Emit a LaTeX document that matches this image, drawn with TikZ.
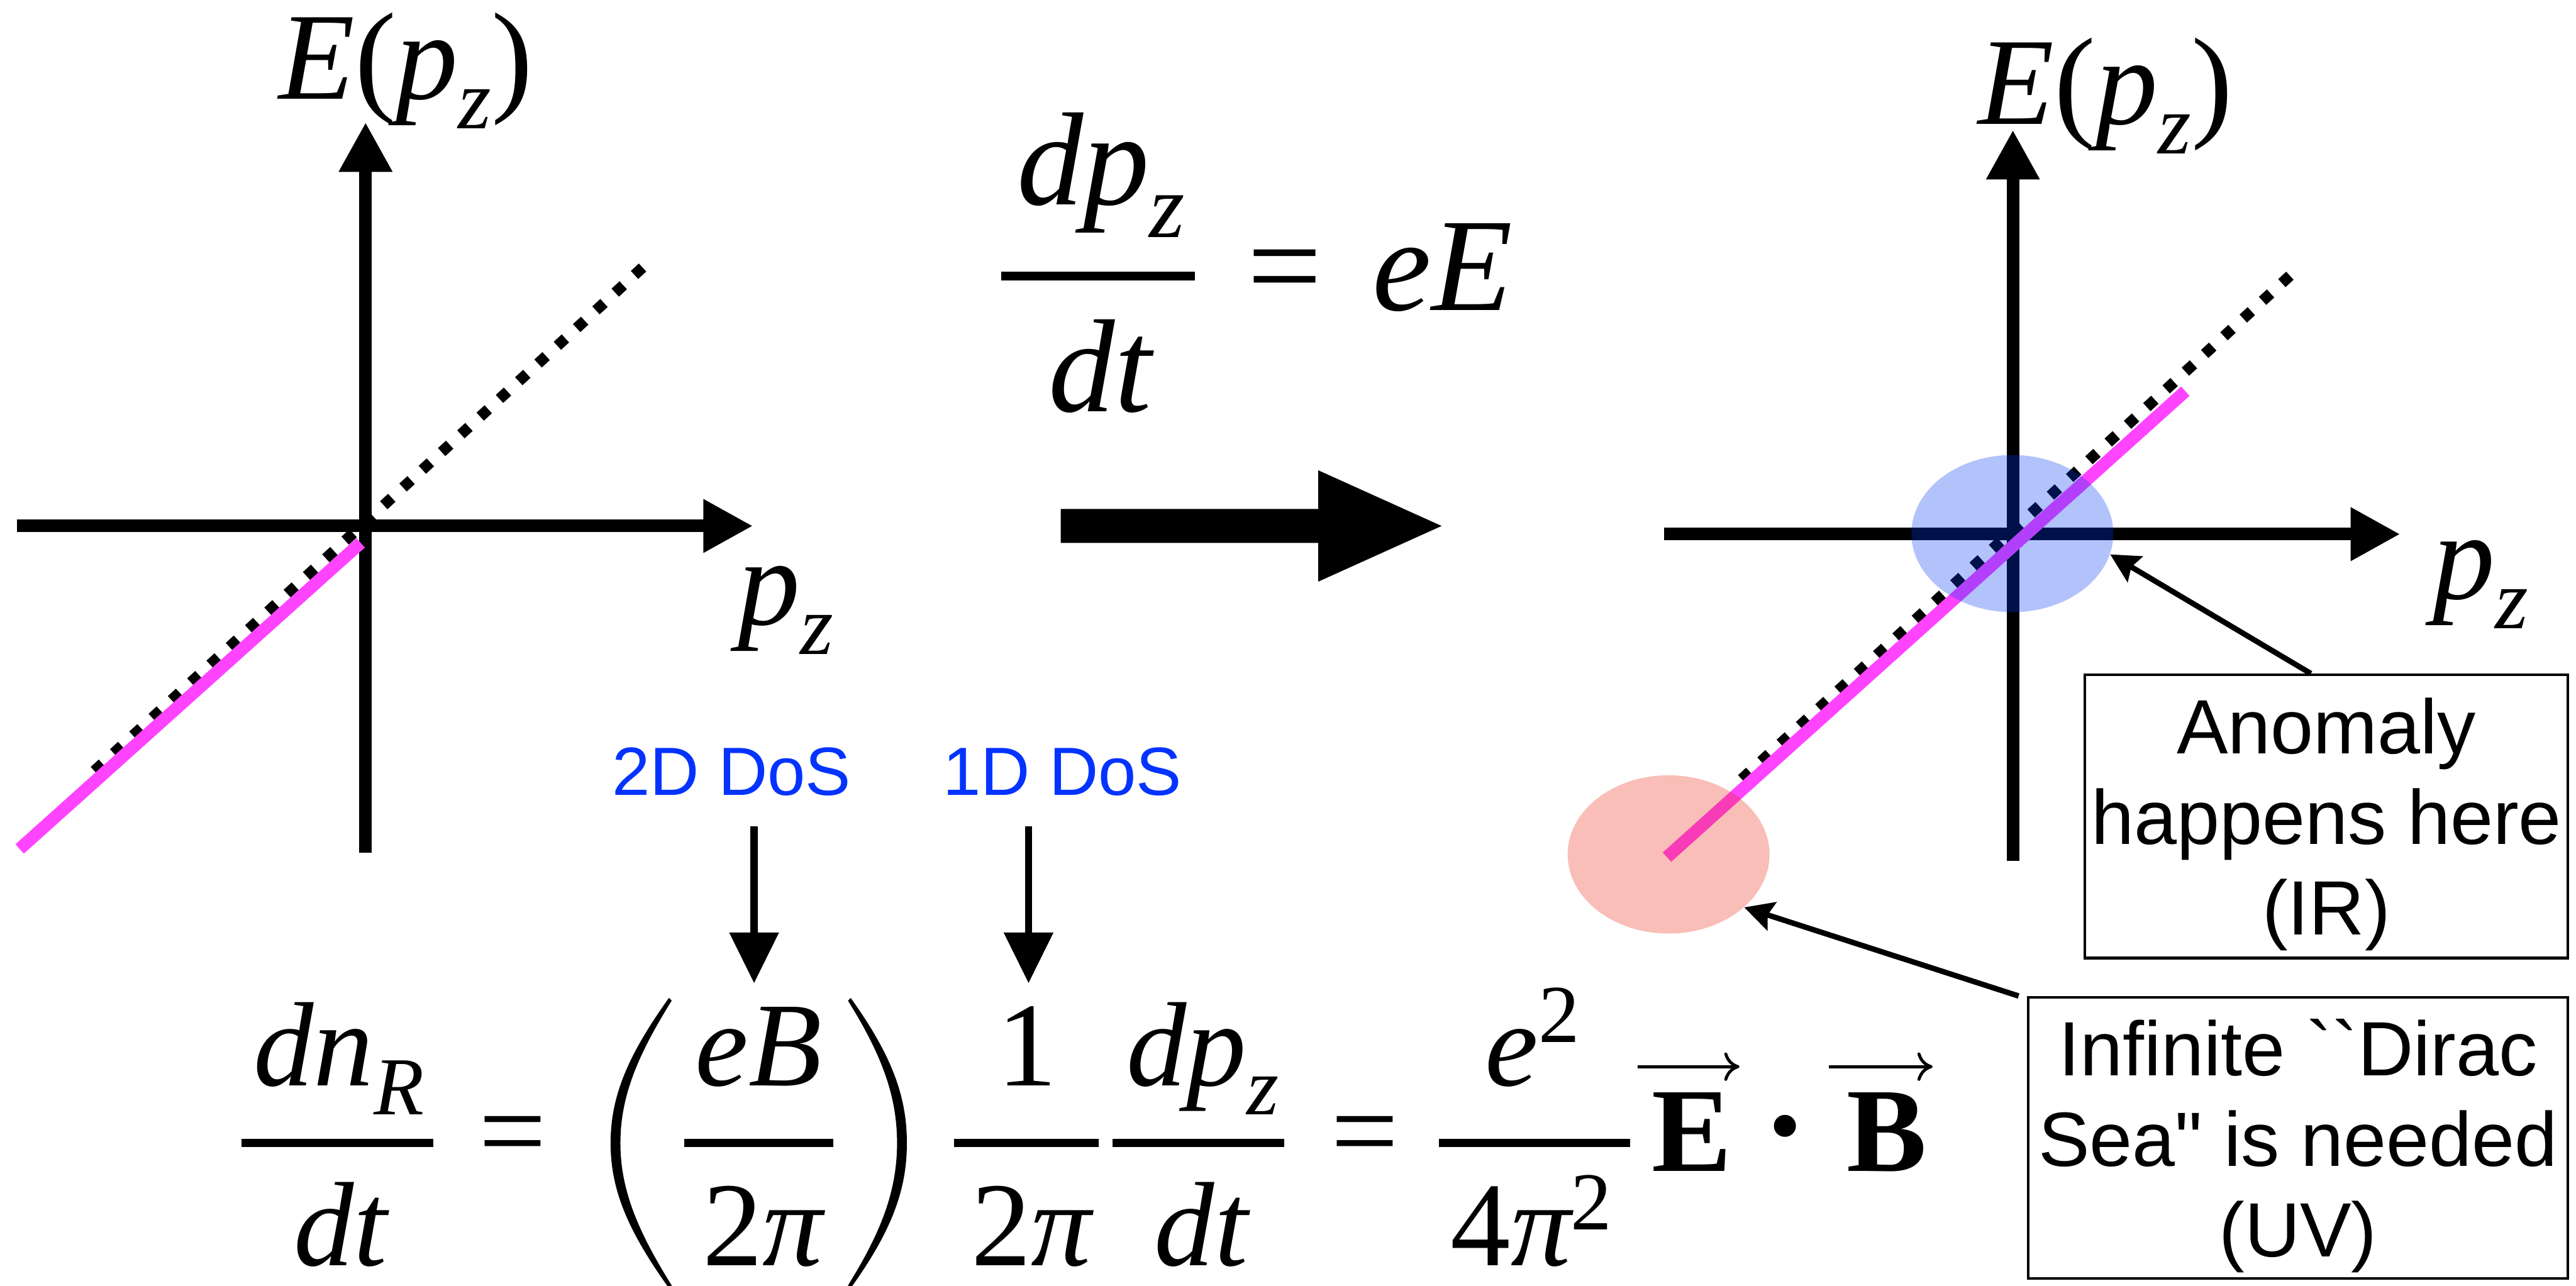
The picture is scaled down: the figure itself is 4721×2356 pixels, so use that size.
\documentclass[tikz,border=0pt]{standalone}
\usepackage{graphicx}
\usepackage{fontspec}
\newfontfamily\tms{Liberation Serif}
\newfontfamily\helv{Liberation Sans}[Ligatures=TeXOff]
\newcommand{\subB}{\fontsize{37.75pt}{38pt}\selectfont}
\newcommand{\subT}{\fontsize{41.75pt}{42pt}\selectfont}
\newcommand{\subA}{\fontsize{39pt}{40pt}\selectfont}
\usetikzlibrary{arrows.meta,shapes.geometric,calc}
\definecolor{mag}{RGB}{255,68,255}
\definecolor{dosblue}{RGB}{4,51,255}
\definecolor{irblue}{RGB}{0,55,242}
\definecolor{uvred}{RGB}{232,40,16}
\tikzset{
  axisline/.style={line width=5.75pt,-{Triangle[length=22.75pt,width=23pt]}},
  dotline/.style={line width=5pt,dash pattern=on 5pt off 7pt},
  magline/.style={line width=5.75pt,draw=mag},
  callout/.style={line width=2.5pt,-{Stealth[length=13.25pt,width=13.5pt,inset=2pt]}},
  downarr/.style={line width=3.25pt,-{Triangle[length=23.25pt,width=22pt]}},
  ibox/.style={draw,line width=1.25pt,inner sep=0pt,align=center,
    font=\helv\fontsize{35.25pt}{41.5pt}\selectfont},
  doslab/.style={anchor=base,inner sep=0pt,text=dosblue,
    font=\helv\fontsize{31.25pt}{36pt}\selectfont},
  axlab/.style={anchor=base west,inner sep=0pt,font=\tms\fontsize{57pt}{60pt}\selectfont},
  region/.style={ellipse,inner sep=0pt,fill opacity=0.3,minimum width=92.5pt,minimum height=72pt},
  eqB/.style={anchor=base,inner sep=0pt,font=\tms\fontsize{55pt}{55pt}\selectfont},
  eqBw/.style={eqB,anchor=base west},
  eqT/.style={anchor=base,inner sep=0pt,font=\tms\fontsize{60.75pt}{61pt}\selectfont},
  eqTw/.style={eqT,anchor=base west},
  barB/.style={line width=3.75pt},
  barT/.style={line width=4pt},
  vecarrow/.style={line width=1.4pt,-{To[length=7pt,width=13pt]}}
}
\begin{document}
\begin{tikzpicture}[x=0.25pt,y=-0.25pt]
\useasboundingbox (0,0) rectangle (4721,2356);
% ---------- left diagram ----------
\coordinate (Lxl) at (31,964);
\coordinate (Lxr) at (1380,964);
\coordinate (Lyb) at (670,1563);
\coordinate (Lyt) at (670,224);
\coordinate (Ld1) at (173,1413);
\coordinate (Ld2) at (1178,490);
\coordinate (Lm1) at (36,1556);
\coordinate (Lm2) at (661,995);
\draw[axisline] (Lxl) -- (Lxr);
\draw[axisline] (Lyb) -- (Lyt);
\draw[dotline] (Ld1) -- (Ld2);
\draw[magline] (Lm1) -- (Lm2);
\node[axlab] (ELlab) at (510,182) {{\itshape E}({\itshape p}\raisebox{-13.5pt}{\subA\itshape z})};
\node[axlab] (pzL) at (1352,1145) {{\itshape p}\raisebox{-13.5pt}{\subA\itshape z}};
% ---------- right diagram ----------
\coordinate (Rxl) at (3050,979);
\coordinate (Rxr) at (4399,979);
\coordinate (Ryb) at (3689,1578);
\coordinate (Ryt) at (3689,238);
\coordinate (Rd1) at (3192,1428);
\coordinate (Rd2) at (4197,505);
\coordinate (Rm1) at (3055,1571);
\coordinate (Rm2) at (4005,717);
\draw[axisline] (Rxl) -- (Rxr);
\draw[axisline] (Ryb) -- (Ryt);
\draw[dotline] (Rd1) -- (Rd2);
\draw[magline] (Rm1) -- (Rm2);
\node[axlab] (ERlab) at (3625,228) {{\itshape E}({\itshape p}\raisebox{-13.5pt}{\subA\itshape z})};
\node[axlab] (pzR) at (4458,1098) {{\itshape p}\raisebox{-13.5pt}{\subA\itshape z}};
\node[region,fill=irblue] (irell) at (3688,978) {};
\node[region,fill=uvred,minimum height=72.5pt] (uvell) at (3058,1566) {};
% ---------- boxes and callouts ----------
\node[ibox,minimum width=221.25pt,minimum height=129.75pt] (ir) at (4263.5,1496.5)
  {\rule{0pt}{32.5pt}Anomaly\\happens here\\(IR)};
\node[ibox,minimum width=247.25pt,minimum height=128.75pt] (uv) at (4211.5,2085.5)
  {\rule{0pt}{33.5pt}Infinite ``Dirac\\Sea" is needed\\(UV)};
\draw[callout] ($(ir.north west)!0.468!(ir.north east)$) -- (irell.-12);
\draw[callout] ([xshift=-3.75pt]uv.north west) -- (uvell.-35.6);
% ---------- big arrow and top equation ----------
\fill (1944,933) -- (2416,933) -- (2416,862) -- (2642,964) -- (2416,1066)
  -- (2416,995) -- (1944,995) -- cycle;
\node[eqTw] (dpzT) at (1863,375) {\itshape dp\raisebox{-15pt}{\subT z}};
\draw[barT] (1835,506) -- (2190,506);
\node[eqTw] (dtT) at (1921,754) {\itshape dt};
\node[eqT] (eqT) at (2355,569) {=};
\node[eqTw] (eET) at (2515,569) {\itshape eE};
% ---------- DoS labels and arrows ----------
\node[doslab] (dos2) at (1341,1457) {2D DoS};
\node[doslab] (dos1) at (1947,1457) {1D DoS};
\coordinate (a2s) at (1382,1515);
\coordinate (a2e) at (1382,1802);
\coordinate (a1s) at (1885,1515);
\coordinate (a1e) at (1885,1802);
\draw[downarr] (a2s) -- (a2e);
\draw[downarr] (a1s) -- (a1e);
% ---------- bottom equation ----------
\node[eqBw] (dnR) at (464,1990) {\itshape dn\raisebox{-13.25pt}{\subB R}};
\draw[barB] (443,2095) -- (794,2095);
\node[eqBw] (dtA) at (538,2320) {\itshape dt};
\node[eqB] (eqA) at (940,2147) {=};
% large parentheses
\fill (1226,1829) .. controls (1150,1935) and (1119,2010) .. (1119,2095)
  .. controls (1119,2180) and (1150,2255) .. (1226,2361)
  -- (1231,2356) .. controls (1168,2255) and (1137,2180) .. (1137,2095)
  .. controls (1137,2010) and (1168,1935) .. (1231,1834) -- cycle;
\fill (1559,1829) .. controls (1635,1935) and (1662,2010) .. (1662,2095)
  .. controls (1662,2180) and (1635,2255) .. (1559,2361)
  -- (1554,2356) .. controls (1617,2255) and (1644,2180) .. (1644,2095)
  .. controls (1644,2010) and (1617,1935) .. (1554,1834) -- cycle;
\node[eqB] (eBn) at (1390,1990) {\itshape eB};
\draw[barB] (1254,2095) -- (1527,2095);
\node[eqB] (tpA) at (1398,2320) {2{\itshape π}};
\node[eqB] (one) at (1882,1990) {1};
\draw[barB] (1748,2095) -- (2013,2095);
\node[eqB] (tpB) at (1890,2320) {2{\itshape π}};
\node[eqBw] (dpzB) at (2064,1990) {\itshape dp\raisebox{-13.25pt}{\subB z}};
\draw[barB] (2039,2095) -- (2354,2095);
\node[eqBw] (dtB) at (2115,2320) {\itshape dt};
\node[eqB] (eqB2) at (2502,2147) {=};
\node[eqBw] (esq) at (2721,1990) {{\itshape e}\raisebox{20pt}{\subB 2}};
\draw[barB] (2637,2095) -- (2988,2095);
\node[eqBw] (fpsq) at (2658,2320) {4{\itshape π}\raisebox{16.5pt}{\subB 2}};
\node[eqBw] (Ebold) at (3026,2147) {\bfseries E};
\node[anchor=base,inner sep=0pt,font=\tms\fontsize{85pt}{85pt}\selectfont] (cdot) at (3272,2177) {·};
\node[eqBw] (Bbold) at (3384,2147) {\bfseries B};
\coordinate (vE1) at (3001,1955);
\coordinate (vE2) at (3188,1955);
\coordinate (vB1) at (3352,1955);
\coordinate (vB2) at (3542,1955);
\draw[vecarrow] (vE1) -- (vE2);
\draw[vecarrow] (vB1) -- (vB2);
\end{tikzpicture}
\end{document}
